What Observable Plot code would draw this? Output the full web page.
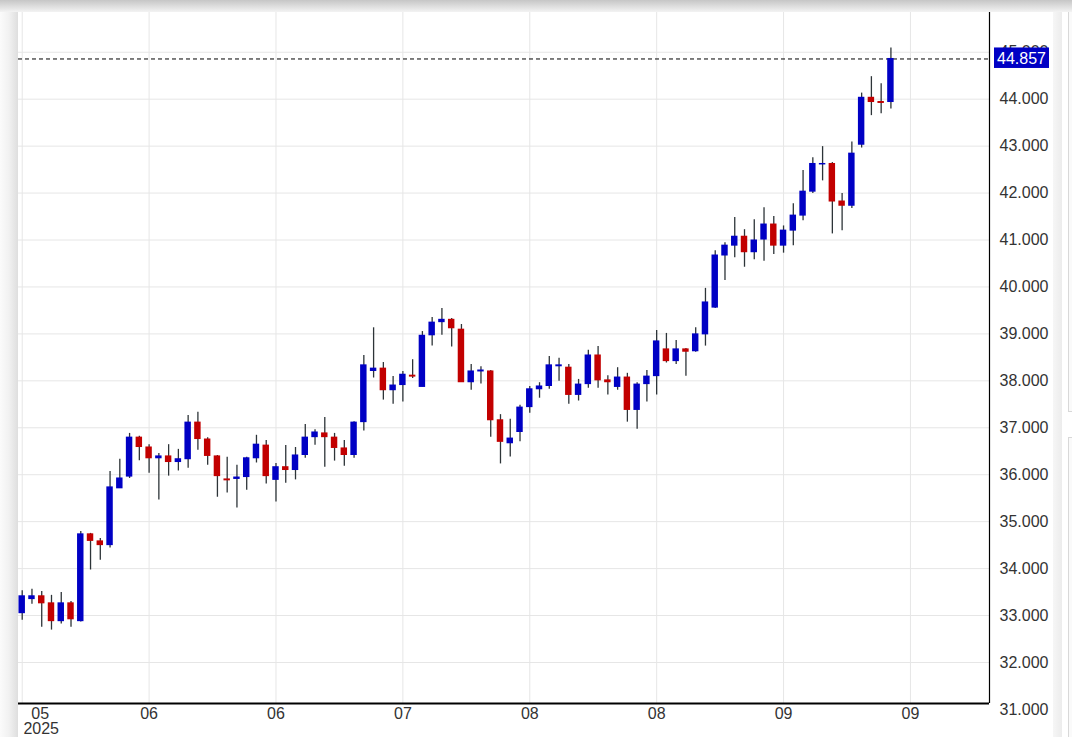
<!DOCTYPE html>
<html>
<head>
<meta charset="utf-8">
<script src="https://cdn.jsdelivr.net/npm/d3@7"></script>
<script src="https://cdn.jsdelivr.net/npm/@observablehq/plot@0.6"></script>
<style>
  html, body { margin: 0; padding: 0; background: #fff; }
  #wrap { position: relative; width: 1072px; height: 737px; overflow: hidden; font-family: "Liberation Sans", Arial, sans-serif; }
  #wrap svg { position: absolute; left: 0; top: 0; }
  .deco { position: absolute; pointer-events: none; }
</style>
</head>
<body>
<div id="wrap">
  <div id="chart"></div>
  <div class="deco" style="left:0;top:0;width:1072px;height:12px;background:linear-gradient(to bottom,#c6c6c6,#f3f3f3);"></div>
  <div class="deco" style="left:0;top:12px;width:18px;height:725px;background:linear-gradient(to right,#fbfbfb,#f1f1f1 50%,#dedede);"></div>
  <div class="deco" style="left:1053px;top:12px;width:9px;height:725px;background:linear-gradient(to right,#f6f6f6,#ececec);"></div>
  <div class="deco" style="left:1068px;top:12px;width:10px;height:399px;border-left:1px solid #d8d8d8;border-bottom:1px solid #d8d8d8;background:#fafafa;"></div>
  <div class="deco" style="left:1068px;top:437px;width:10px;height:300px;border-left:1px solid #d8d8d8;border-top:1px solid #d8d8d8;background:#fafafa;"></div>
</div>
<script>
// ---- data ----
const open  = [33.05,33.35,33.41,33.26,32.88,33.26,32.88,34.73,34.58,34.50,
               35.71,35.96,36.79,36.58,36.35,36.39,36.27,36.33,37.11,36.75,
               36.39,35.90,35.91,35.95,36.35,36.62,35.89,36.16,36.10,36.42,
               36.80,36.88,36.79,36.56,36.42,37.12,38.21,38.26,37.80,37.91,
               38.11,37.87,38.97,39.25,39.30,39.09,37.97,38.20,38.20,37.16,
               36.67,36.91,37.44,37.82,37.89,38.31,38.28,37.70,37.93,38.54,
               38.01,37.87,38.07,37.38,37.93,38.10,38.67,38.42,38.67,38.63,
               38.99,39.56,40.67,40.88,41.07,40.74,41.01,41.33,40.88,41.20,
               41.52,42.03,42.61,42.62,41.82,41.73,43.03,44.03,43.94,43.94];
const high  = [33.53,33.56,33.51,33.43,33.49,33.30,34.79,34.75,34.64,36.07,
               36.33,36.88,36.82,36.64,36.45,36.64,36.54,37.26,37.33,36.79,
               36.41,36.37,36.20,36.37,36.84,36.73,36.24,36.62,36.58,37.07,
               36.96,37.22,36.88,36.73,37.13,38.54,39.13,38.39,38.09,38.20,
               38.45,39.05,39.35,39.54,39.33,39.20,38.35,38.30,38.22,37.28,
               37.18,37.48,37.88,37.96,38.52,38.48,38.35,38.03,38.65,38.73,
               38.11,38.28,38.16,37.96,38.22,39.07,39.01,38.86,38.69,39.13,
               39.97,40.77,40.94,41.48,41.22,41.43,41.69,41.50,41.30,41.77,
               42.48,42.75,42.99,42.65,41.99,43.09,44.13,44.48,44.33,45.09];
const low   = [32.90,33.24,32.75,32.69,32.82,32.75,32.86,33.97,34.18,34.44,
               35.71,35.92,36.30,36.03,35.46,35.97,36.08,36.14,36.52,36.20,
               35.52,35.61,35.29,35.67,36.25,35.80,35.42,35.82,35.89,36.35,
               36.63,36.16,36.29,36.18,36.35,36.93,38.06,37.59,37.50,37.55,
               38.05,37.87,38.74,38.97,38.72,37.97,37.80,37.93,36.80,36.23,
               36.38,36.70,37.31,37.63,37.82,37.99,37.50,37.57,37.84,37.84,
               37.70,37.80,37.12,36.97,37.55,37.70,38.38,38.35,38.10,38.61,
               38.74,39.54,40.14,40.62,40.42,40.58,40.55,40.69,40.72,40.88,
               41.41,41.99,42.26,41.13,41.20,41.67,42.96,43.65,43.69,43.79];
const close = [33.41,33.41,33.26,32.88,33.26,32.92,34.73,34.59,34.50,35.73,
               35.92,36.79,36.59,36.35,36.39,36.27,36.33,37.11,36.76,36.40,
               35.97,35.88,35.94,36.35,36.64,35.97,36.16,36.10,36.41,36.79,
               36.90,36.80,36.57,36.42,37.11,38.33,38.26,37.80,37.90,38.13,
               38.09,38.96,39.24,39.30,39.12,37.97,38.20,38.22,37.16,36.70,
               36.77,37.43,37.82,37.88,38.33,38.33,37.70,37.92,38.54,38.01,
               37.97,38.07,37.38,37.92,38.09,38.84,38.42,38.67,38.62,38.99,
               39.67,40.67,40.88,41.07,40.74,40.99,41.33,40.88,41.20,41.52,
               42.03,42.62,42.62,41.82,41.73,42.84,44.03,43.94,43.92,44.857];

const xTickIdx    = [0, 13, 26, 39, 52, 65, 78, 91];
const xTickLabels = ["05", "06", "06", "07", "08", "08", "09", "09"];
const yearLabel   = "2025";
const yTicks      = [31,32,33,34,35,36,37,38,39,40,41,42,43,44,45];

// ---- build ----
const UP = "#0000c4", DOWN = "#c20000", WICK = "#2d3438";
const candles = open.map((o, i) => ({i, o, h: high[i], l: low[i], c: close[i]}));
const last = close[close.length - 1];
const xDomain = [-0.38, 99.1];
const yDomain = [31.126, 45.847];
const fmt = d3.format(".3f");
const xLab = xTickIdx.map((i, k) => ({i, label: xTickLabels[k]}));
const HW = 0.33;

const plot = Plot.plot({
  width: 1072,
  height: 737,
  marginLeft: 18,
  marginRight: 83,
  marginTop: 12,
  marginBottom: 34,
  x: {domain: xDomain, axis: null},
  y: {domain: yDomain, axis: null},
  style: {fontFamily: "'Liberation Sans', Arial, sans-serif", background: "#fff", overflow: "visible"},
  marks: [
    Plot.gridY(yTicks.filter(t => t > yDomain[0]), {stroke: "#e6e6e6", strokeOpacity: 1, strokeWidth: 1}),
    Plot.gridX(xTickIdx, {stroke: "#e6e6e6", strokeOpacity: 1, strokeWidth: 1}),
    Plot.ruleY([last], {stroke: "#000", strokeWidth: 1, strokeDasharray: "4,3"}),
    Plot.ruleX(candles, {x: "i", y1: "l", y2: "h", stroke: WICK, strokeWidth: 1.3}),
    Plot.rectY(candles, {
      x1: d => d.i - HW, x2: d => d.i + HW,
      y1: d => Math.min(d.o, d.c), y2: d => Math.max(d.o, d.c),
      fill: d => d.c >= d.o ? UP : DOWN, insetTop: -0.5, insetBottom: -0.5
    }),
    Plot.ruleX([xDomain[1]], {stroke: "#000", strokeWidth: 1.2}),
    Plot.ruleY([yDomain[0]], {stroke: "#000", strokeWidth: 2}),
    Plot.axisY(yTicks, {anchor: "right", tickSize: 0, tickPadding: 10, tickFormat: fmt, fontSize: 16, fill: "#333"}),
    Plot.text(xLab.slice(1), {x: "i", y: () => yDomain[0], text: "label", dy: 10, fontSize: 16, fill: "#333"}),
    Plot.text(xLab.slice(0, 1), {x: "i", y: () => yDomain[0], text: "label", dy: 10, dx: 18, fontSize: 16, fill: "#333"}),
    Plot.text([yearLabel], {x: () => xTickIdx[0], y: () => yDomain[0], text: d => d, dy: 25, dx: 19, fontSize: 16, fill: "#333"})
  ]
});
document.getElementById("chart").appendChild(plot);

// current-price tag on the right axis, placed through the plot's own scales
const sx = plot.scale("x"), sy = plot.scale("y");
const yPix = sy.apply(last), xPix = sx.apply(xDomain[1]);
const svg = d3.select(plot);
svg.append("rect").attr("x", xPix + 5).attr("y", yPix - 11).attr("width", 55).attr("height", 20.5).attr("fill", UP);
svg.append("text").attr("x", xPix + 32.5).attr("y", yPix - 0.5).attr("dy", "0.36em")
  .attr("text-anchor", "middle").attr("fill", "#fff").attr("font-size", 16)
  .attr("font-family", "'Liberation Sans', Arial, sans-serif").text(fmt(last));
</script>
</body>
</html>
